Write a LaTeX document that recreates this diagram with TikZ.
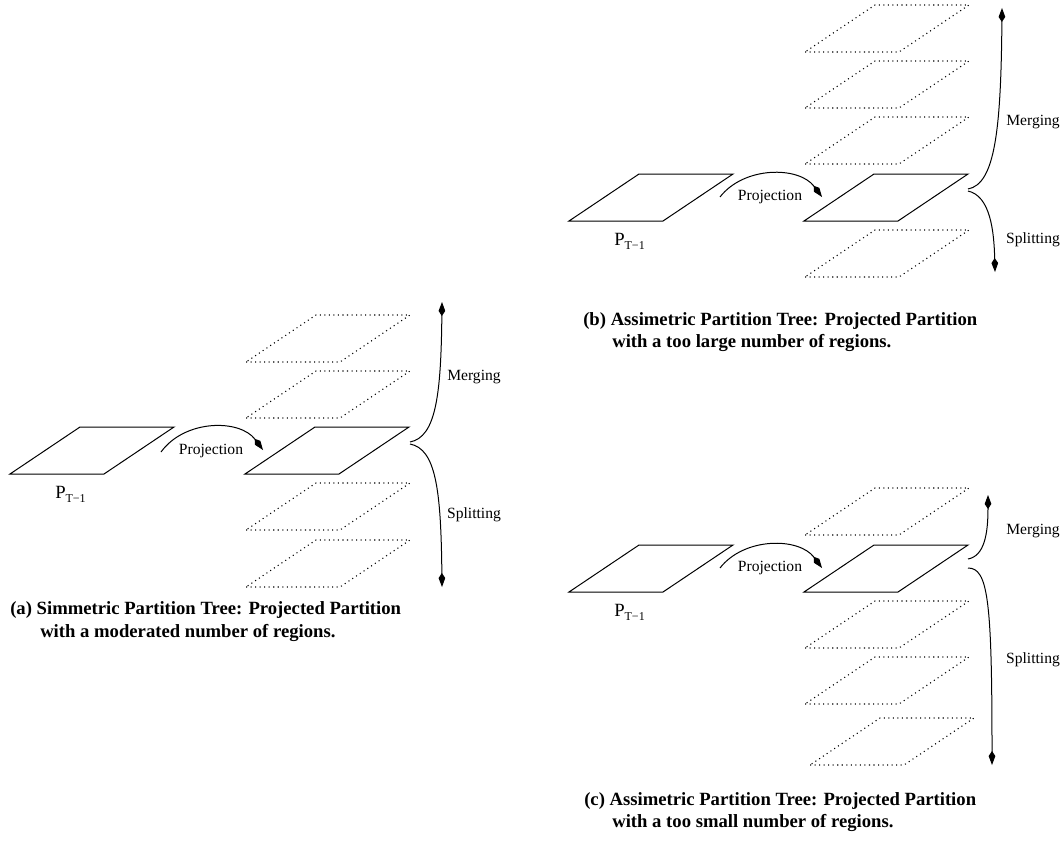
\documentclass[tikz,border=0pt]{standalone}
\usepackage{fontspec}
\setmainfont{Liberation Serif}
\usetikzlibrary{arrows.meta}
\tikzset{
  solidplane/.style={line width=0.75pt, line join=miter},
  ghostplane/.style={line width=0.8pt, dash pattern=on 0.8pt off 2.6pt},
  conn/.style={line width=0.75pt, -{Kite[length=10.5pt,width=5pt,inset=3.8pt]}},
  lbl/.style={font=\fontsize{11.7}{14}\selectfont, inner sep=0pt},
  plabel/.style={inner sep=0pt, anchor=base west},
  capt/.style={font=\bfseries\fontsize{14}{16.5}\selectfont, inner sep=0pt, anchor=base west},
}
\newcommand{\myplane}[3]{\draw[#3] (#1,#2) -- ++(94,0) -- ++(70,-47) -- ++(-94,0) -- cycle;}
\newcommand{\ptm}{{\fontsize{14}{16}\selectfont P}\raisebox{-0.8ex}{\fontsize{9}{10}\selectfont T−1}}
\begin{document}
\begin{tikzpicture}[x=0.75pt, y=-0.75pt]
\useasboundingbox (0,0) rectangle (1062,845);

% ---------------- panel (a) ----------------
\myplane{10}{474}{solidplane}
\myplane{245}{474}{solidplane}
\myplane{246}{362}{ghostplane}
\myplane{246}{418}{ghostplane}
\myplane{246}{530}{ghostplane}
\myplane{246}{587}{ghostplane}
\node[plabel] (pa) at (55,498) {\ptm};
\coordinate (a-ps) at (161,452);
\coordinate (a-pt) at (263,450);
\draw[conn] (a-ps) .. controls (185,419) and (240,419) .. (a-pt);
\node[lbl] (a-proj) at (211,451) {Projection};
\coordinate (a-b1) at (410,442);
\coordinate (a-b2) at (410,444);
\coordinate (a-mt) at (442,302);
\coordinate (a-st) at (442,587);
\draw[conn] (a-b1) .. controls (436,437) and (441,395) .. (a-mt);
\draw[conn] (a-b2) .. controls (436,449) and (441,490) .. (a-st);
\node[lbl] (a-merge) at (474,377) {Merging};
\node[lbl] (a-split) at (474,515) {Splitting};
\node[capt] (a-cap1) at (10,614) {(a) Simmetric Partition Tree: Projected Partition};
\node[capt] (a-cap2) at (40,637) {with a moderated number of regions.};

% ---------------- panel (b) ----------------
\myplane{569}{221}{solidplane}
\myplane{804}{221}{solidplane}
\myplane{805}{52}{ghostplane}
\myplane{805}{108}{ghostplane}
\myplane{805}{164}{ghostplane}
\myplane{805}{277}{ghostplane}
\node[plabel] (pb) at (614,245) {\ptm};
\coordinate (b-ps) at (720,197);
\coordinate (b-pt) at (822,197);
\draw[conn] (b-ps) .. controls (744,166) and (799,166) .. (b-pt);
\node[lbl] (b-proj) at (770,197) {Projection};
\coordinate (b-b1) at (968,189);
\coordinate (b-b2) at (968,191);
\coordinate (b-mt) at (1002,8);
\coordinate (b-st) at (995,272);
\draw[conn] (b-b1) .. controls (995,184) and (1001,130) .. (b-mt);
\draw[conn] (b-b2) .. controls (990,196) and (994,230) .. (b-st);
\node[lbl] (b-merge) at (1033,122) {Merging};
\node[lbl] (b-split) at (1033,240) {Splitting};
\node[capt] (b-cap1) at (583,325) {(b) Assimetric Partition Tree: Projected Partition};
\node[capt] (b-cap2) at (612,347) {with a too large number of regions.};

% ---------------- panel (c) ----------------
\myplane{569}{592}{solidplane}
\myplane{804}{592}{solidplane}
\myplane{805}{535}{ghostplane}
\myplane{805}{648}{ghostplane}
\myplane{805}{704}{ghostplane}
\myplane{810}{765}{ghostplane}
\node[plabel] (pc) at (614,616) {\ptm};
\coordinate (c-ps) at (720,568);
\coordinate (c-pt) at (822,568);
\draw[conn] (c-ps) .. controls (744,537) and (799,537) .. (c-pt);
\node[lbl] (c-proj) at (770,568) {Projection};
\coordinate (c-b1) at (968,559);
\coordinate (c-b2) at (968,568);
\coordinate (c-mt) at (988,495);
\coordinate (c-st) at (992,765);
\draw[conn] (c-b1) .. controls (984,556) and (988,535) .. (c-mt);
\draw[conn] (c-b2) .. controls (988,568) and (992,600) .. (c-st);
\node[lbl] (c-merge) at (1033,531) {Merging};
\node[lbl] (c-split) at (1033,660) {Splitting};
\node[capt] (c-cap1) at (584,805) {(c) Assimetric Partition Tree: Projected Partition};
\node[capt] (c-cap2) at (612,827) {with a too small number of regions.};
\end{tikzpicture}
\end{document}
